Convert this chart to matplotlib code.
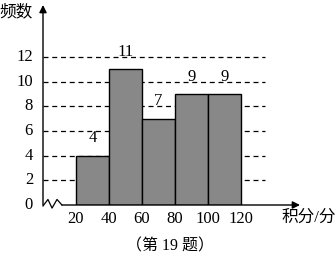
import numpy as np
import matplotlib
matplotlib.use('Agg')
import matplotlib.pyplot as plt

# histogram data
edges  = [20, 40, 60, 80, 100, 120]
counts = [4, 11, 7, 9, 9]
yticks = [0, 2, 4, 6, 8, 10, 12]
xticks = [20, 40, 60, 80, 100, 120]

plt.rcParams['font.family'] = ['Liberation Serif', 'Noto Sans CJK SC']
plt.rcParams['font.size'] = 12

W, H = 336, 268
fig = plt.figure(figsize=(W/100, H/100), dpi=100)
# axes box in pixels: origin at (43,205), top at 5, right at 300
ax = fig.add_axes([43/W, (H-205)/H, (300-43)/W, 200/H])
ax.set_xlim(0, 156)
ax.set_ylim(0, 16.2)
ax.axis('off')

# dashed grid lines
for v in yticks[1:]:
    ax.plot([0, 134.5], [v, v], color='black', lw=0.9, ls=(0, (4, 3)), zorder=1)

# bars
lefts = edges[:-1]
widths = np.diff(edges)
ax.bar(lefts, counts, width=widths, align='edge', color='#888888',
       edgecolor='black', linewidth=1.0, zorder=2)
for x, w, c in zip(lefts, widths, counts):
    ax.text(x + w/2, c + 1.4, str(c), ha='center', va='center', zorder=3)

# axes with arrows
ax.annotate('', xy=(156, 0), xytext=(11.5, 0),
            arrowprops=dict(arrowstyle='-|>', color='black', lw=1.0,
                            mutation_scale=11, shrinkA=0, shrinkB=0),
            annotation_clip=False)
ax.annotate('', xy=(0, 16.2), xytext=(0, 0),
            arrowprops=dict(arrowstyle='-|>', color='black', lw=1.0,
                            mutation_scale=11, shrinkA=0, shrinkB=0),
            annotation_clip=False)
# break symbol on x axis
zx = [0, 3, 5.5, 8.5, 11.5]
zy = [-0.08, 0.45, -0.25, 0.45, 0]
ax.plot(zx, zy, color='black', lw=0.9, clip_on=False)

# tick labels
for v in yticks:
    ax.text(-6, v, str(v), ha='right', va='center')
for v in xticks:
    ax.text(v, -1.15, str(v), ha='center', va='center')

fig.text(-1/W, 1 - 12/H, '频数', ha='left', va='center', fontsize=12)
fig.text(309/W, 1 - 218/H, '积分/分', ha='center', va='center', fontsize=12)
fig.text(170/W, 1 - 246/H, '（第 19 题）', ha='center', va='center', fontsize=11.5)

fig.savefig('out.png', dpi=100)
